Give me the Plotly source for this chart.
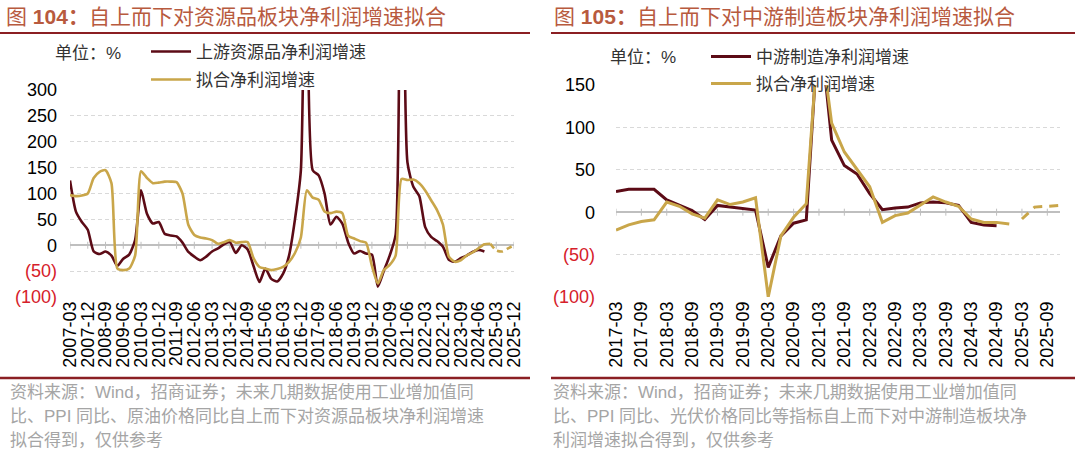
import plotly.graph_objects as go

W, H = 1080, 455

# ---------------- data: left chart (quarterly) ----------------
left_quarters = [f"{y}-{m}" for y in range(2007, 2026) for m in ("03", "06", "09", "12")]
left_tick_labels = left_quarters[::3]

left_upstream = [125, 65, 45, 30, -12, -17, -12, -20, -40, -26,
                 -18, 10, 106, 61, 42, 45, 22, 19, 17, 5,
                 -13, -22, -29, -22, -12, -6, 2, 6, -15, 0,
                 -8, -40, -71, -45, -65, -70, -55, -20, 50, 145,
                 900, 145, 135, 100, 40, 55, 42, 5, -16, -11,
                 -16, -18, -80, -50, -20, 20, 1200, 160, 113, 95,
                 35, 16, 8, -3, -28, -32, -25, -20, -13, -9,
                 -12]
left_fit = [97, 95, 96, 100, 130, 142, 145, 120, -45, -48,
            -45, -20, 143, 130, 120, 121, 123, 123, 122, 100,
            39, 20, 15, 13, 10, 3, 6, 10, 5, 6,
            6, -25, -42, -45, -48, -46, -42, -32, -15, 15,
            106, 92, 88, 65, 62, 65, 62, 18, 13, 8,
            5, -40, -74, -48, -38, -20, 128, 126, 127, 120,
            106, 87, 68, 40, -22, -32, -29, -20, -14, -6,
            2, 3]
left_forecast_quarters = left_quarters[71:]
left_fit_forecast = [3, -10, -12, -6, 0]

left_pos_ticks = [0, 50, 100, 150, 200, 250, 300]
left_neg_ticks = [-50, -100]
left_neg_text = ["(50)", "(100)"]

# ---------------- data: right chart (quarterly) ----------------
right_quarters = [f"{y}-{m}" for y in range(2017, 2026) for m in ("03", "06", "09", "12")]
right_tick_labels = right_quarters[::2]

right_mid = [24.5, 27, 27, 27, 14.5, 8.5, 2, -8.5, 8, 6,
             4.5, 2.5, -65, -28, -13, -9, 230, 85, 55, 45,
             22, 3, 5, 6, 11, 12, 11, 8, -12, -15,
             -16]
right_fit = [-21, -15, -11, -9, 12, 7, -2, -7, 14.5, 9,
             12, 17, -100, -28, -6, 10, 220, 105, 71, 50,
             30, -12, -4, -1, 8, 18, 12, 7, -8, -12,
             -12, -14]
right_forecast_quarters = right_quarters[32:]
right_fit_forecast = [-8, 6, 7, 8]

right_pos_ticks = [0, 50, 100, 150]
right_neg_ticks = [-50, -100]
right_neg_text = ["(50)", "(100)"]

# ---------------- styles ----------------
DARK = "#5C0B16"
GOLD = "#C9A64A"
TITLE = "#B85A3E"
RULE = "#8B1F23"
NEG = "#D6202A"
GRID = "#D9D9D9"
ZERO = "#BFBFBF"
NOTE = "#A5A5A5"
NUM = "Liberation Sans, Arial, sans-serif"
CJK = "Liberation Sans, Noto Sans CJK SC, sans-serif"


def fx(px):
    return px / W


def fy(py):
    return 1 - py / H


fig = go.Figure()

# axis tick marks on the zero line
fig.add_trace(go.Scatter(x=left_tick_labels, y=[0] * len(left_tick_labels), mode="markers",
                         marker=dict(symbol="line-ns", size=5, line=dict(color=ZERO, width=1)),
                         xaxis="x", yaxis="y", showlegend=False, hoverinfo="skip"))
fig.add_trace(go.Scatter(x=right_tick_labels, y=[0] * len(right_tick_labels), mode="markers",
                         marker=dict(symbol="line-ns", size=5, line=dict(color=ZERO, width=1)),
                         xaxis="x2", yaxis="y2", showlegend=False, hoverinfo="skip"))

# left chart series
fig.add_trace(go.Scatter(x=left_quarters[:len(left_upstream)], y=left_upstream, mode="lines",
                         name="上游资源品净利润增速",
                         line=dict(color=DARK, width=2.6, shape="spline", smoothing=0.6),
                         xaxis="x", yaxis="y", legend="legend"))
fig.add_trace(go.Scatter(x=left_quarters[:len(left_fit)], y=left_fit, mode="lines",
                         name="拟合净利润增速",
                         line=dict(color=GOLD, width=2.6, shape="spline", smoothing=0.6),
                         xaxis="x", yaxis="y", legend="legend2"))
fig.add_trace(go.Scatter(x=left_forecast_quarters, y=left_fit_forecast, mode="lines",
                         line=dict(color=GOLD, width=2.6, dash="6px,4px", shape="spline", smoothing=0.6),
                         xaxis="x", yaxis="y", showlegend=False))

# right chart series
fig.add_trace(go.Scatter(x=right_quarters[:len(right_mid)], y=right_mid, mode="lines",
                         name="中游制造净利润增速", line=dict(color=DARK, width=3),
                         xaxis="x2", yaxis="y2", legend="legend3"))
fig.add_trace(go.Scatter(x=right_quarters[:len(right_fit)], y=right_fit, mode="lines",
                         name="拟合净利润增速", line=dict(color=GOLD, width=3),
                         xaxis="x2", yaxis="y2", legend="legend4"))
fig.add_trace(go.Scatter(x=right_forecast_quarters, y=right_fit_forecast, mode="lines",
                         line=dict(color=GOLD, width=3, dash="9px,7px"),
                         xaxis="x2", yaxis="y2", showlegend=False))

L_X0, L_X1 = 70, 514
R_X0, R_X1 = 616, 1060
y_dom = [fy(297), fy(90)]
y2_dom = [fy(297), fy(85)]

common_x = dict(type="category", tickangle=-90, ticks="", showgrid=False, showline=False,
                zeroline=False, automargin=False,
                tickfont=dict(family=NUM, size=18, color="#000"))
common_y = dict(tickmode="array", showgrid=True, gridcolor=GRID, griddash="4px,3px", gridwidth=1,
                zeroline=True, zerolinecolor=ZERO, zerolinewidth=1.5,
                ticks="", showline=False, automargin=False,
                tickfont=dict(family=NUM, size=18, color="#000"))

fig.update_layout(
    width=W, height=H, margin=dict(l=0, r=0, t=0, b=0, autoexpand=False),
    paper_bgcolor="white", plot_bgcolor="white",
    xaxis=dict(domain=[fx(L_X0), fx(L_X1)], anchor="y", range=[0, 75],
               categoryorder="array", categoryarray=left_quarters,
               tickmode="array", tickvals=left_tick_labels, ticktext=left_tick_labels, **common_x),
    yaxis=dict(domain=y_dom, anchor="x", range=[-100, 300],
               tickvals=left_pos_ticks + left_neg_ticks,
               ticktext=[str(v) for v in left_pos_ticks] + ["" for _ in left_neg_ticks],
               ticklabelstandoff=12, **common_y),
    xaxis2=dict(domain=[fx(R_X0), fx(R_X1)], anchor="y2", range=[0, 35],
                categoryorder="array", categoryarray=right_quarters,
                tickmode="array", tickvals=right_tick_labels, ticktext=right_tick_labels, **common_x),
    yaxis2=dict(domain=y2_dom, anchor="x2", range=[-100, 150],
                tickvals=right_pos_ticks + right_neg_ticks,
                ticktext=[str(v) for v in right_pos_ticks] + ["" for _ in right_neg_ticks],
                ticklabelstandoff=20, **common_y),
    showlegend=True,
)

leg_common = dict(xanchor="left", yanchor="middle", bgcolor="rgba(0,0,0,0)", borderwidth=0,
                  font=dict(family=CJK, size=17, color="#333"), itemwidth=40)
fig.update_layout(
    legend=dict(x=fx(146), y=fy(52), **leg_common),
    legend2=dict(x=fx(146), y=fy(80), **leg_common),
    legend3=dict(x=fx(706), y=fy(57), **leg_common),
    legend4=dict(x=fx(706), y=fy(84), **leg_common),
)

# titles, rules, notes
panels = [
    dict(x0=0, x1=530, tx=4, title="图 <b>104：</b>自上而下对资源品板块净利润增速拟合",
         unit_x=53, unit_y=53, plot_x0=L_X0, stand=12, yref="y",
         neg_ticks=left_neg_ticks, neg_text=left_neg_text,
         notes=["资料来源：Wind，招商证券；未来几期数据使用工业增加值同",
                "比、PPI 同比、原油价格同比自上而下对资源品板块净利润增速",
                "拟合得到，仅供参考"], nx=8),
    dict(x0=551, x1=1075, tx=552, title="图 <b>105：</b>自上而下对中游制造板块净利润增速拟合",
         unit_x=608, unit_y=57, plot_x0=R_X0, stand=20, yref="y2",
         neg_ticks=right_neg_ticks, neg_text=right_neg_text,
         notes=["资料来源：Wind，招商证券；未来几期数据使用工业增加值同",
                "比、PPI 同比、光伏价格同比等指标自上而下对中游制造板块净",
                "利润增速拟合得到，仅供参考"], nx=551),
]
shapes = []
annotations = []
for p in panels:
    shapes.append(dict(type="line", xref="paper", yref="paper", x0=fx(p["x0"]), x1=fx(p["x1"]),
                       y0=fy(33), y1=fy(33), line=dict(color=RULE, width=2)))
    shapes.append(dict(type="line", xref="paper", yref="paper", x0=fx(p["x0"]), x1=fx(p["x1"]),
                       y0=fy(378), y1=fy(378), line=dict(color=RULE, width=2.5)))
    annotations.append(dict(text=p["title"], x=fx(p["tx"]), y=fy(17), xref="paper", yref="paper",
                            xanchor="left", yanchor="middle", showarrow=False,
                            font=dict(family=CJK, size=21, color=TITLE)))
    annotations.append(dict(text="单位：%", x=fx(p["unit_x"]), y=fy(p["unit_y"]), xref="paper", yref="paper",
                            xanchor="left", yanchor="middle", showarrow=False,
                            font=dict(family=CJK, size=17, color="#333")))
    # red negative tick labels
    for v, t in zip(p["neg_ticks"], p["neg_text"]):
        annotations.append(dict(text=t, x=fx(p["plot_x0"]), y=v, xref="paper", yref=p["yref"],
                                xanchor="right", yanchor="middle", xshift=-p["stand"] + 1,
                                showarrow=False, font=dict(family=NUM, size=18, color=NEG)))
    for i, line in enumerate(p["notes"]):
        annotations.append(dict(text=line, x=fx(p["nx"]), y=fy(392 + 24 * i), xref="paper", yref="paper",
                                xanchor="left", yanchor="middle", showarrow=False,
                                font=dict(family=CJK, size=17, color=NOTE)))
fig.update_layout(shapes=shapes, annotations=annotations)

fig.write_html("out.html")
